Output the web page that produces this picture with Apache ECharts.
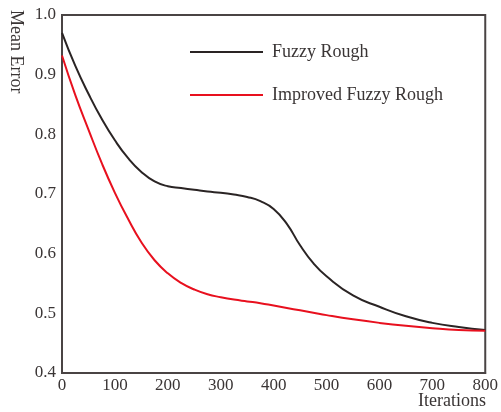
<!DOCTYPE html>
<html>
<head>
<meta charset="utf-8">
<script src="https://cdn.jsdelivr.net/npm/echarts@6/dist/echarts.min.js"></script>
<style>html,body{margin:0;padding:0;background:#fff}#c{width:501px;height:412px}</style>
</head>
<body>
<div id="c"></div>
<script>
var seriesNames = ['Fuzzy Rough', 'Improved Fuzzy Rough'];
var iterX = [0, 25, 50, 75, 100, 125, 150, 175, 200, 225, 250, 275, 300, 325, 350, 375, 400, 425, 450, 475, 500, 550, 600, 650, 700, 750, 800];
var fuzzyRough = [0.970, 0.915, 0.868, 0.826, 0.790, 0.760, 0.737, 0.721, 0.713, 0.710, 0.707, 0.704, 0.702, 0.699, 0.695, 0.688, 0.675, 0.650, 0.614, 0.584, 0.562, 0.530, 0.511, 0.495, 0.484, 0.477, 0.472];
var improvedFuzzyRough = [0.932, 0.866, 0.808, 0.752, 0.702, 0.658, 0.619, 0.589, 0.567, 0.551, 0.540, 0.532, 0.527, 0.523, 0.520, 0.517, 0.513, 0.509, 0.505, 0.501, 0.497, 0.490, 0.484, 0.479, 0.475, 0.472, 0.471];
var xTicks = [0, 100, 200, 300, 400, 500, 600, 700, 800];
var yTicks = [0.4, 0.5, 0.6, 0.7, 0.8, 0.9, 1.0];

function pairs(xs, ys) { return xs.map(function (x, i) { return [x, ys[i]]; }); }

var font = 'Liberation Serif';
var textColor = '#3a3535';
var axisColor = '#4a4444';
var chart = echarts.init(document.getElementById('c'));
chart.setOption({
  animation: false,
  backgroundColor: '#fff',
  grid: { left: 62, right: 10, top: 15, bottom: 39, show: true, borderColor: axisColor, borderWidth: 2 },
  legend: {
    orient: 'vertical', left: 185, top: 38, itemGap: 25,
    icon: 'rect', itemWidth: 73, itemHeight: 2,
    textStyle: { fontFamily: font, fontSize: 18, color: textColor, padding: [0, 0, 0, 4] },
    data: seriesNames
  },
  xAxis: {
    type: 'value', min: xTicks[0], max: xTicks[xTicks.length - 1], interval: 100,
    axisLine: { show: true, lineStyle: { color: axisColor, width: 2 } },
    axisTick: { show: false }, splitLine: { show: false },
    axisLabel: { fontFamily: font, fontSize: 17, color: textColor, margin: 4 }
  },
  yAxis: {
    type: 'value', min: yTicks[0], max: yTicks[yTicks.length - 1], interval: 0.1,
    axisLine: { show: true, lineStyle: { color: axisColor, width: 2 } },
    axisTick: { show: false }, splitLine: { show: false },
    axisLabel: { fontFamily: font, fontSize: 17, color: textColor, margin: 6, formatter: function (v) { return v.toFixed(1); } }
  },
  graphic: [
    { type: 'text', left: 418, top: 392, style: { text: 'Iterations', font: '18px "Liberation Serif"', fill: textColor } },
    { type: 'text', x: 25, y: 10, rotation: -Math.PI / 2, style: { text: 'Mean Error', font: '18px "Liberation Serif"', fill: textColor } }
  ],
  series: [
    { name: seriesNames[0], type: 'line', smooth: 0.5, showSymbol: false, data: pairs(iterX, fuzzyRough), lineStyle: { color: '#2a2424', width: 2 }, itemStyle: { color: '#2a2424' } },
    { name: seriesNames[1], type: 'line', smooth: 0.5, showSymbol: false, data: pairs(iterX, improvedFuzzyRough), lineStyle: { color: '#e8101e', width: 2 }, itemStyle: { color: '#e8101e' } }
  ]
});
</script>
</body>
</html>
